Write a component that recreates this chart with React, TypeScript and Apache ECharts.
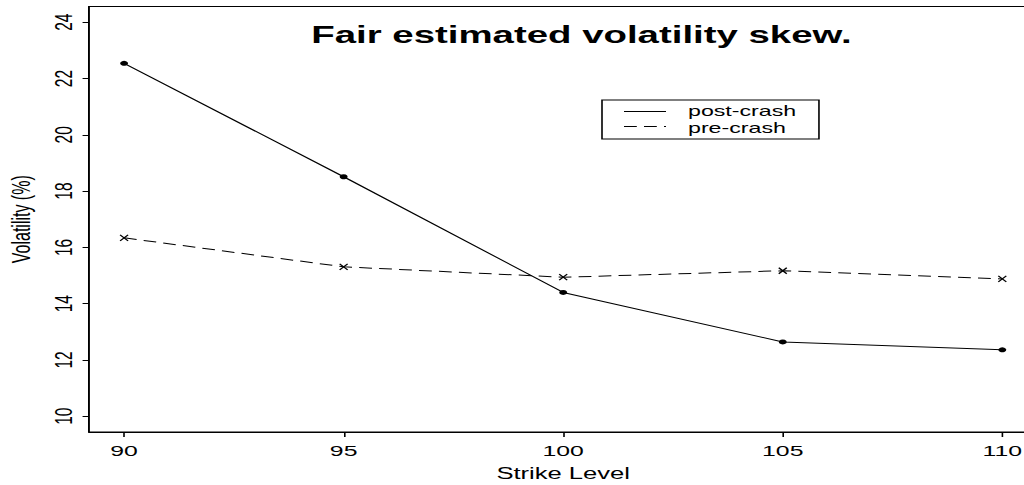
import React, { useEffect, useRef } from "react";
import * as echarts from "echarts";

// Data
const strikes = [90, 95, 100, 105, 110];
const postCrash = [22.54, 18.51, 14.4, 12.64, 12.36];
const preCrash = [16.34, 15.31, 14.94, 15.17, 14.88];
const xTickValues = [90, 95, 100, 105, 110];
const yTickValues = [10, 12, 14, 16, 18, 20, 22, 24];
const seriesNames = ["post-crash", "pre-crash"];
const titleText = "Fair estimated volatility skew.";
const xName = "Strike Level";
const yName = "Volatility (%)";

const FONT = "'Liberation Sans', Arial, Helvetica, sans-serif";

export default function App() {
  const ref = useRef<HTMLDivElement>(null);

  useEffect(() => {
    if (!ref.current) return;
    const chart = echarts.init(ref.current, null, { renderer: "svg" });
    chart.setOption({
      animation: false,
      backgroundColor: "#fff",
      grid: {
        left: 55.6,
        top: 6.5,
        width: 592.8,
        height: 425.5,
        show: true,
        borderColor: "#000",
        borderWidth: 1,
        backgroundColor: "transparent",
        containLabel: false,
        outerBoundsMode: "none",
      },
      xAxis: {
        type: "value",
        min: 89.2,
        max: 110.8,
        name: xName,
        nameLocation: "middle",
        nameGap: 34,
        nameTextStyle: { fontFamily: FONT, fontSize: 16, color: "#000" },
        splitLine: { show: false },
        axisLine: { show: true, onZero: false, lineStyle: { color: "#000", width: 1 } },
        axisTick: {
          show: true,
          length: 5,
          customValues: xTickValues,
          lineStyle: { color: "#000", width: 1 },
        },
        axisLabel: {
          customValues: xTickValues,
          margin: 10.5,
          fontFamily: FONT,
          fontSize: 15.5,
          color: "#000",
        },
      },
      yAxis: {
        type: "value",
        min: 9.44,
        max: 24.56,
        name: yName,
        nameLocation: "middle",
        nameGap: 34,
        nameRotate: 90,
        nameTextStyle: { fontFamily: FONT, fontSize: 16, color: "#000" },
        splitLine: { show: false },
        axisLine: { show: true, onZero: false, lineStyle: { color: "#000", width: 1 } },
        axisTick: {
          show: true,
          length: 4,
          customValues: yTickValues,
          lineStyle: { color: "#000", width: 1 },
        },
        axisLabel: {
          customValues: yTickValues,
          rotate: 90,
          margin: 8.5,
          fontFamily: FONT,
          fontSize: 15.5,
          color: "#000",
        },
      },
      series: [
        {
          name: seriesNames[0],
          type: "line",
          data: strikes.map((s, i) => [s, postCrash[i]]),
          symbol: "circle",
          symbolSize: 5,
          showSymbol: true,
          lineStyle: { color: "#000", width: 1, type: "solid" },
          itemStyle: { color: "#000", borderWidth: 0 },
          emphasis: { disabled: true },
        },
        {
          name: seriesNames[1],
          type: "line",
          data: strikes.map((s, i) => [s, preCrash[i]]),
          symbol: "path://M0 0L10 10M10 0L0 10",
          symbolSize: [5, 6],
          showSymbol: true,
          lineStyle: { color: "#000", width: 1, type: [8, 4.5] },
          itemStyle: { color: "#000", borderColor: "#000", borderWidth: 1 },
          emphasis: { disabled: true },
        },
      ],
      graphic: [
        {
          type: "text",
          x: 363.4,
          y: 35,
          style: {
            text: titleText,
            fontFamily: FONT,
            fontWeight: "bold",
            fontSize: 24,
            fill: "#000",
            align: "center",
            verticalAlign: "middle",
          },
        },
        {
          type: "rect",
          shape: { x: 376.25, y: 100, width: 135.6, height: 39 },
          style: { fill: "#fff", stroke: "#000", lineWidth: 1 },
        },
        {
          type: "line",
          shape: { x1: 390, y1: 111.5, x2: 416.25, y2: 111.5 },
          style: { stroke: "#000", lineWidth: 1 },
        },
        {
          type: "line",
          shape: { x1: 390, y1: 126.5, x2: 416.25, y2: 126.5 },
          style: { stroke: "#000", lineWidth: 1, lineDash: [8, 4.5] },
        },
        {
          type: "text",
          x: 430,
          y: 111,
          style: {
            text: seriesNames[0],
            fontFamily: FONT,
            fontSize: 14.5,
            lineHeight: 14,
            fill: "#000",
            align: "left",
            verticalAlign: "middle",
          },
        },
        {
          type: "text",
          x: 430,
          y: 127.5,
          style: {
            text: seriesNames[1],
            fontFamily: FONT,
            fontSize: 14.5,
            lineHeight: 14,
            fill: "#000",
            align: "left",
            verticalAlign: "middle",
          },
        },
      ],
    });
    return () => chart.dispose();
  }, []);

  return (
    <div
      ref={ref}
      style={{
        position: "absolute",
        left: 0,
        top: 0,
        width: 640,
        height: 485,
        transform: "scaleX(1.6)",
        transformOrigin: "0 0",
        background: "#fff",
      }}
    />
  );
}
